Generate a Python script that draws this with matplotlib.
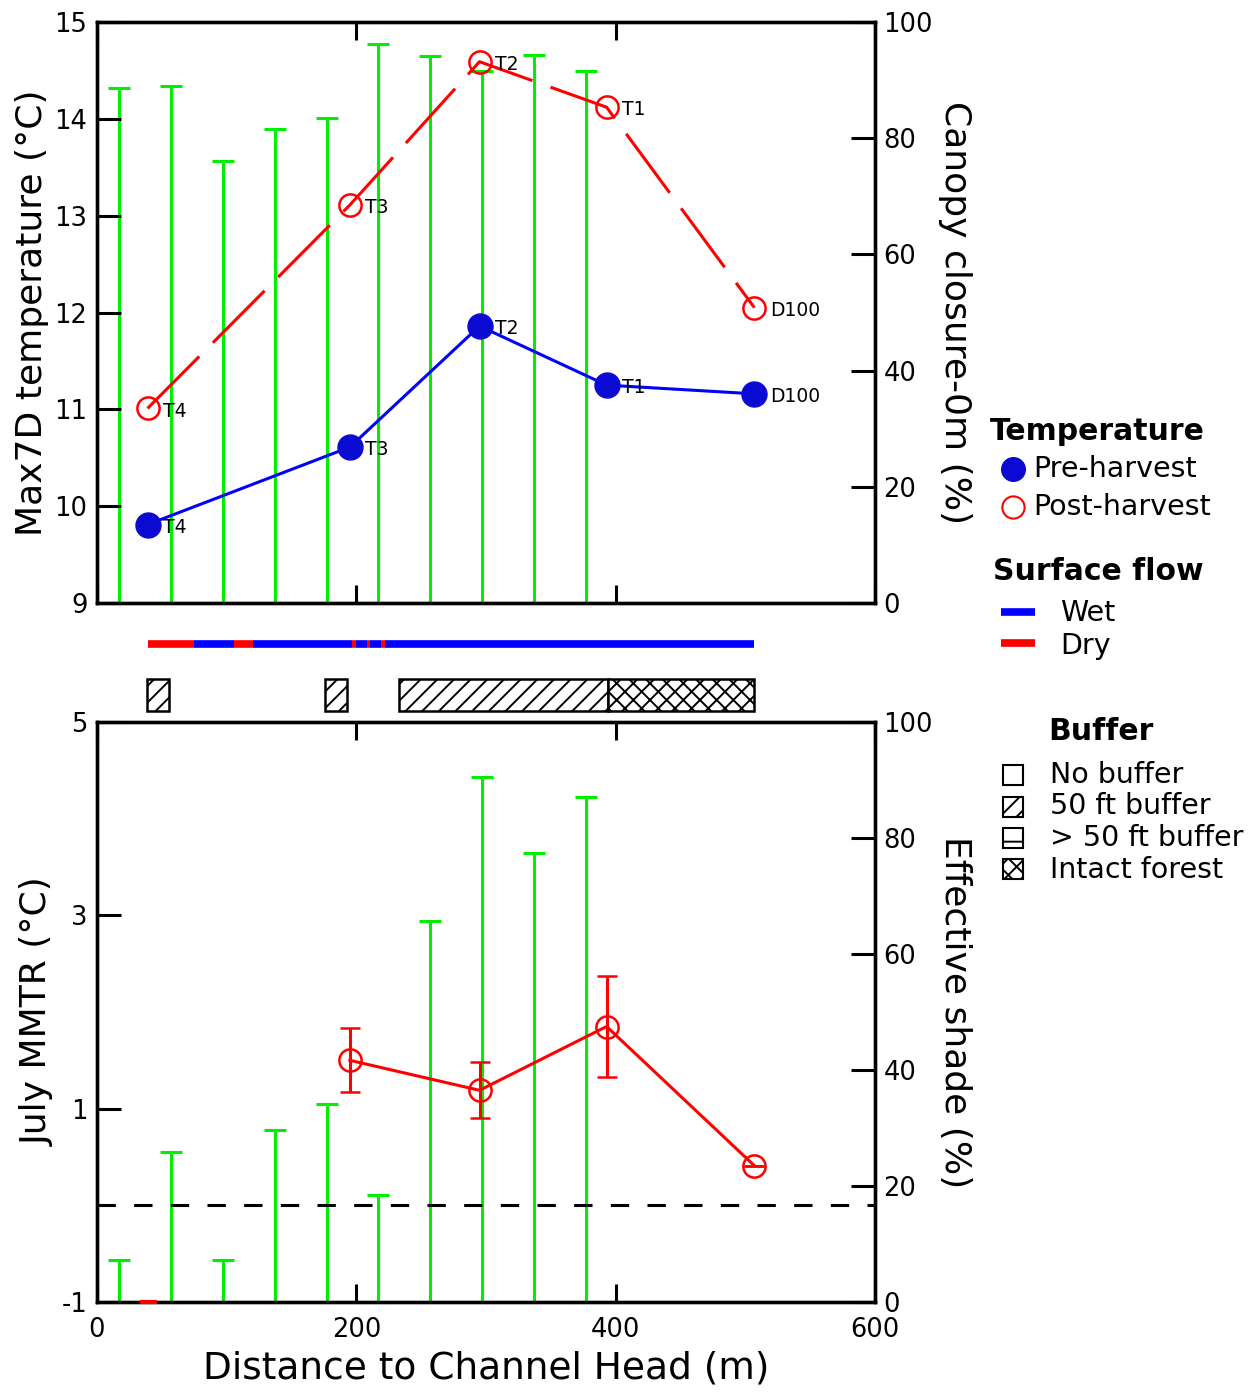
import matplotlib
matplotlib.use('Agg')
import matplotlib.pyplot as plt
from matplotlib.lines import Line2D
from matplotlib.patches import Rectangle

plt.rcParams['font.family'] = ['DejaVu Sans']
plt.rcParams['hatch.linewidth'] = 1.4
plt.rcParams['axes.unicode_minus'] = False

# ---- data ----
site_x = [39, 195, 295, 393, 507]
site_names = ['T4', 'T3', 'T2', 'T1', 'D100']
pre_harvest = [9.81, 10.61, 11.86, 11.25, 11.16]
post_harvest = [11.01, 13.11, 14.59, 14.12, 12.05]

shade_x = [17, 57, 97, 137, 177, 217, 257, 297, 337, 377]
canopy_closure = [88.6, 89.0, 76.1, 81.6, 83.5, 96.2, 94.1, 91.6, 94.3, 91.5]
effective_shade = [7.2, 25.9, 7.2, 29.7, 34.1, 18.4, 65.7, 90.5, 77.4, 87.1]

mmtr_x = [195, 295, 393, 507]
mmtr = [1.50, 1.19, 1.85, 0.41]
mmtr_err = [0.33, 0.29, 0.52, 0.0]

# surface flow segments (start, end, state)
flow_segments = [(39.5, 75, 'dry'), (75, 106, 'wet'), (106, 120, 'dry'),
                 (120, 197, 'wet'), (197, 199.5, 'dry'), (199.5, 208, 'wet'),
                 (208, 210.5, 'dry'), (210.5, 219, 'wet'), (219, 222, 'dry'),
                 (222, 507, 'wet')]
# buffer segments (start, end, hatch)
buffer_segments = [(38.5, 55.5, '//'), (176, 193, '//'), (233, 394, '//'), (394, 507, 'xx')]

W, H = 1252, 1394
def fx(px):
    return px / W
def fy(py):
    return 1 - py / H

GREEN = '#00ee00'
BLUE = '#0000ff'
DBLUE = '#0a0ad2'
RED = '#ff0000'
flow_colors = {'wet': BLUE, 'dry': RED}

fig = plt.figure(figsize=(W / 100, H / 100), dpi=100)

ax1 = fig.add_axes([fx(97), fy(603), fx(778), 581 / H])
ax1r = ax1.twinx()
ax2 = fig.add_axes([fx(97), fy(1302), fx(778), 580 / H])
ax2r = ax2.twinx()

def style(ax):
    for s in ax.spines.values():
        s.set_linewidth(2.4)
    ax.tick_params(direction='in', width=2.2, labelsize=18.5, pad=7)
    ax.tick_params(axis='y', length=17)
    ax.tick_params(axis='x', length=13, top=True)

for a in (ax1, ax1r, ax2, ax2r):
    style(a)

# ---- top panel ----
ax1r.vlines(shade_x, 0, canopy_closure, color=GREEN, lw=2.2)
ax1r.plot(shade_x, canopy_closure, '_', color=GREEN, ms=16, mew=2.2)
ax1r.set_ylim(0, 100)
ax1r.set_yticks(range(0, 101, 20))
ax1r.tick_params(axis='y', pad=6)

ax1.set_zorder(ax1r.get_zorder() + 1)
ax1.patch.set_visible(False)
ax1.plot(site_x, post_harvest, color=RED, lw=2.2, ls=(0, (24, 6.3)),
         marker='o', ms=16, mfc='none', mec=RED, mew=1.8)
ax1.plot(site_x, pre_harvest, color=BLUE, lw=2.2,
         marker='o', ms=18, mfc=DBLUE, mec=DBLUE)
for x, y, n in zip(site_x, post_harvest, site_names):
    ax1.annotate(n, (x, y), xytext=(11, -2), textcoords='offset points',
                 fontsize=13.5, ha='left', va='center')
for x, y, n in zip(site_x, pre_harvest, site_names):
    ax1.annotate(n, (x, y), xytext=(11, -2), textcoords='offset points',
                 fontsize=13.5, ha='left', va='center')
ax1.set_xlim(0, 600)
ax1.set_ylim(9, 15)
ax1.set_yticks(range(9, 16))
ax1.set_xticks([0, 200, 400, 600])
ax1.tick_params(axis='x', labelbottom=False)
ax1.text((32 - 97) / 778, 0.5, 'Max7D temperature (\u00b0C)', transform=ax1.transAxes,
         rotation=90, ha='center', va='center', fontsize=26)
ax1.text((955 - 97) / 778, 0.5, 'Canopy closure-0m (%)', transform=ax1.transAxes,
         rotation=270, ha='center', va='center', fontsize=26)

# ---- strip: surface flow and buffers ----
axs = fig.add_axes([fx(97), fy(715), fx(778), 95 / H])
axs.set_xlim(0, 600)
axs.set_ylim(0, 1)
axs.axis('off')
for x0, x1, state in flow_segments:
    axs.plot([x0, x1], [0.747, 0.747], color=flow_colors[state], lw=5.5,
             solid_capstyle='butt')
for x0, x1, h in buffer_segments:
    axs.add_patch(Rectangle((x0, 0.04), x1 - x0, 0.34, facecolor='white',
                            edgecolor='black', lw=1.8, hatch=h))

# ---- bottom panel ----
ax2r.vlines(shade_x, 0, effective_shade, color=GREEN, lw=2.2)
ax2r.plot(shade_x, effective_shade, '_', color=GREEN, ms=16, mew=2.2)
ax2r.set_ylim(0, 100)
ax2r.set_yticks(range(0, 101, 20))
ax2r.tick_params(axis='y', pad=6)

ax2.set_zorder(ax2r.get_zorder() + 1)
ax2.patch.set_visible(False)
ax2.axhline(0, color='black', lw=2.2, ls=(0, (6, 6)))
ax2.errorbar(mmtr_x, mmtr, yerr=mmtr_err, color=RED, lw=2.2, capsize=7, capthick=2.2,
             marker='o', ms=16, mfc='none', mec=RED, mew=1.8)
ax2.plot([35, 45], [-1, -1], color=RED, lw=3, clip_on=False, zorder=5)
ax2.set_xlim(0, 600)
ax2.set_ylim(-1, 5)
ax2.set_yticks([-1, 1, 3, 5])
ax2.set_xticks([0, 200, 400, 600])
ax2.tick_params(axis='x', pad=11)
ax2.text((38 - 97) / 778, 0.5, 'July MMTR (\u00b0C)', transform=ax2.transAxes,
         rotation=90, ha='center', va='center', fontsize=26)
ax2.text((955 - 97) / 778, 0.5, 'Effective shade (%)', transform=ax2.transAxes,
         rotation=270, ha='center', va='center', fontsize=26)
ax2.text(0.5, (1302 - 1368) / 580, 'Distance to Channel Head (m)', transform=ax2.transAxes,
         ha='center', va='center', fontsize=27)

# ---- legend ----
fig.text(fx(990), fy(432), 'Temperature', fontsize=21.5, fontweight='bold', ha='left', va='center')
fig.add_artist(Line2D([fx(1013)], [fy(469)], transform=fig.transFigure, marker='o', ms=17,
                      mfc=DBLUE, mec=DBLUE, ls='none'))
fig.text(fx(1033), fy(469), 'Pre-harvest', fontsize=20.5, ha='left', va='center')
fig.add_artist(Line2D([fx(1013)], [fy(507)], transform=fig.transFigure, marker='o', ms=16,
                      mfc='none', mec=RED, mew=1.5, ls='none'))
fig.text(fx(1033), fy(507), 'Post-harvest', fontsize=20.5, ha='left', va='center')

fig.text(fx(993), fy(571), 'Surface flow', fontsize=21.5, fontweight='bold', ha='left', va='center')
fig.add_artist(Line2D([fx(1001), fx(1035)], [fy(612), fy(612)], transform=fig.transFigure,
                      color=BLUE, lw=5.5, solid_capstyle='butt'))
fig.text(fx(1060), fy(613), 'Wet', fontsize=20.5, ha='left', va='center')
fig.add_artist(Line2D([fx(1001), fx(1035)], [fy(643), fy(643)], transform=fig.transFigure,
                      color=RED, lw=5.5, solid_capstyle='butt'))
fig.text(fx(1060), fy(646), 'Dry', fontsize=20.5, ha='left', va='center')

fig.text(fx(1048), fy(731), 'Buffer', fontsize=21.5, fontweight='bold', ha='left', va='center')
buffer_legend = [('No buffer', ''), ('50 ft buffer', '//'), ('> 50 ft buffer', '-'),
                 ('Intact forest', 'xx')]
for i, (lab, h) in enumerate(buffer_legend):
    yc = 775 + i * 31.5
    fig.add_artist(Rectangle((fx(1003), fy(yc + 10)), fx(20), 20 / H, transform=fig.transFigure,
                             facecolor='white', edgecolor='black', lw=1.5, hatch=h))
    fig.text(fx(1050), fy(yc), lab, fontsize=20.5, ha='left', va='center')

fig.savefig('out.png', dpi=100)
